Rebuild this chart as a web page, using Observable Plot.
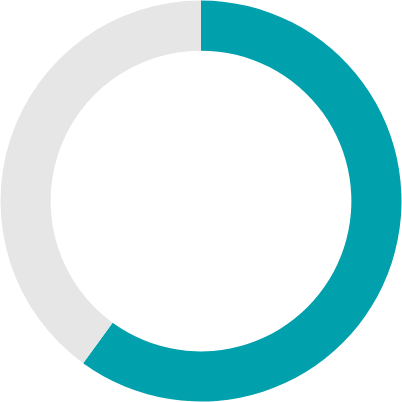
<!DOCTYPE html>
<html>
<head>
<meta charset="utf-8">
<script src="https://cdn.jsdelivr.net/npm/d3@7"></script>
<script src="https://cdn.jsdelivr.net/npm/@observablehq/plot@0.6"></script>
<style>
  html, body { margin: 0; padding: 0; background: #ffffff; }
  #chart svg { display: block; }
</style>
</head>
<body>
<div id="chart"></div>
<script>
const categories = ["Filled", "Remaining"];
const values = [60, 40];
const colors = ["#00a0ad", "#e6e6e6"];

const data = categories.map((c, i) => ({category: c, value: values[i]}));

const W = 402, H = 402;

const donut = Plot.barX(data, {
  x: "value",
  fill: "category",
  render: (index, scales, vals, dims) => {
    const cx = dims.width / 2, cy = dims.height / 2;
    const outer = Math.min(dims.width, dims.height) / 2 - 0.5;
    const inner = outer * 0.75;
    const pie = d3.pie().sort(null).value(i => data[i].value)(Array.from(index));
    const arc = d3.arc().innerRadius(inner).outerRadius(outer);
    const g = d3.create("svg:g").attr("transform", `translate(${cx},${cy})`);
    g.selectAll("path")
      .data(pie)
      .join("path")
      .attr("d", arc)
      .attr("fill", d => vals.fill[d.data]);
    return g.node();
  }
});

const chart = Plot.plot({
  width: W,
  height: H,
  margin: 0,
  x: {axis: null},
  y: {axis: null},
  color: {domain: categories, range: colors},
  marks: [donut]
});

document.getElementById("chart").appendChild(chart);
</script>
</body>
</html>
